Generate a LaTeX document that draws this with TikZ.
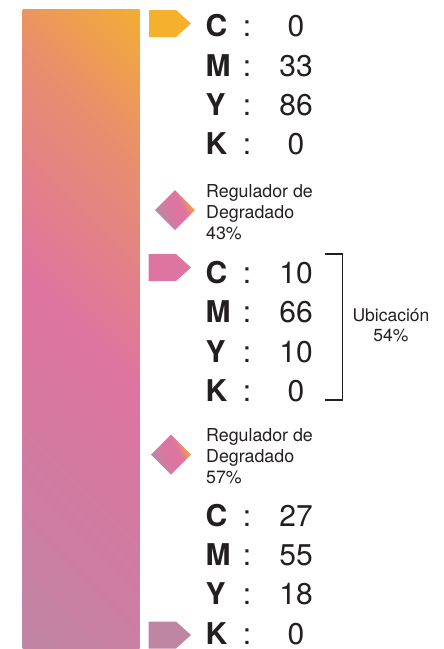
\documentclass[tikz,border=0pt]{standalone}
\usepackage{fontspec}
\setmainfont{TeX Gyre Heros}

\definecolor{cmykorange}{HTML}{F5B02E}
\definecolor{cmykpink}{HTML}{DE74A0}
\definecolor{cmykmauve}{HTML}{BF86A4}
\definecolor{inkdark}{HTML}{231F20}
\colorlet{pinkorange}{cmykpink!55!cmykorange}
\colorlet{pinkmauve}{cmykpink!50!cmykmauve}

\pgfdeclareverticalshading{barshade}{100bp}{color(0bp)=(cmykmauve); color(25bp)=(cmykmauve);
  color(35.5bp)=(pinkmauve); color(50bp)=(cmykpink); color(65bp)=(pinkorange);
  color(76bp)=(cmykorange); color(100bp)=(cmykorange)}
\pgfdeclareverticalshading{diamshade}{100bp}{color(0bp)=(cmykmauve); color(28bp)=(cmykmauve);
  color(50bp)=(cmykpink); color(60bp)=(cmykpink); color(75bp)=(cmykorange); color(100bp)=(cmykorange)}

\tikzset{
  letter/.style={anchor=base west,inner sep=0pt,text=inkdark,font=\fontsize{30}{36}\selectfont\bfseries},
  colon/.style={anchor=base,inner sep=0pt,text=inkdark,font=\fontsize{30}{36}\selectfont},
  value/.style={anchor=base,inner sep=0pt,text=inkdark,font=\fontsize{30}{36}\selectfont},
  note/.style={inner sep=0pt,text=inkdark,font=\fontsize{17.8}{21}\selectfont},
  marker/.style={shading=diamshade,shading angle=-65}
}

\begin{document}
\begin{tikzpicture}[x=1pt,y=-1pt]
  \useasboundingbox (0,0) rectangle (444,649);

  % Gradient bar
  \begin{scope}
    \clip (22.5,9) rectangle (139.5,649);
    \begin{scope}[transform canvas={rotate around={-45:(81,329)}}]
      \shade[shading=barshade] (-186.7,61.3) rectangle (348.7,596.7);
    \end{scope}
  \end{scope}

  % Stops
  \fill[cmykorange] (149,10) -- ++(27,0) -- ++(15,13.5) -- ++(-15,13.5) -- ++(-27,0) -- cycle;
  \fill[cmykpink] (148.5,254) -- ++(27.5,0) -- ++(15,13.5) -- ++(-15,13.5) -- ++(-27.5,0) -- cycle;
  \fill[cmykmauve] (148.5,621.5) -- ++(27.5,0) -- ++(15,13.5) -- ++(-15,13.5) -- ++(-27.5,0) -- cycle;

  % Midpoint sliders
  \shade[marker] (175,190) -- ++(20,20) -- ++(-20,20) -- ++(-20,-20) -- cycle;
  \shade[marker] (171,434.5) -- ++(20,20) -- ++(-20,20) -- ++(-20,-20) -- cycle;

  % CMYK values
  \foreach \g/\yy/\va/\vb/\vc/\vd in {1/36.7/0/33/86/0, 2/283.3/10/66/10/0, 3/526/27/55/18/0}{
    \foreach \i/\lt/\vv in {0/C/\va, 1/M/\vb, 2/Y/\vc, 3/K/\vd}{
      \node[letter] (\lt\g) at (205.5,\yy+39.4*\i) {\lt};
      \node[colon] (s\lt\g) at (247,\yy+39.4*\i) {:};
      \node[value] (v\lt\g) at (296,\yy+39.4*\i) {\vv};
    }
  }

  % Labels
  \node[note,anchor=north west,align=left] (reg1) at (206,184) {Regulador de\\Degradado\\43\%};
  \node[note,anchor=north west,align=left] (reg2) at (206,428) {Regulador de\\Degradado\\57\%};

  % Location bracket
  \coordinate (brtop) at (325,254);
  \coordinate (brbot) at (325,400);
  \draw[inkdark,line width=1.2pt] (brtop) -| ([xshift=17.7pt]brbot) -- (brbot);
  \node[note,anchor=north,align=center,font=\fontsize{17.5}{20}\selectfont] (ubic) at (391,309) {Ubicación\\54\%};
\end{tikzpicture}
\end{document}
